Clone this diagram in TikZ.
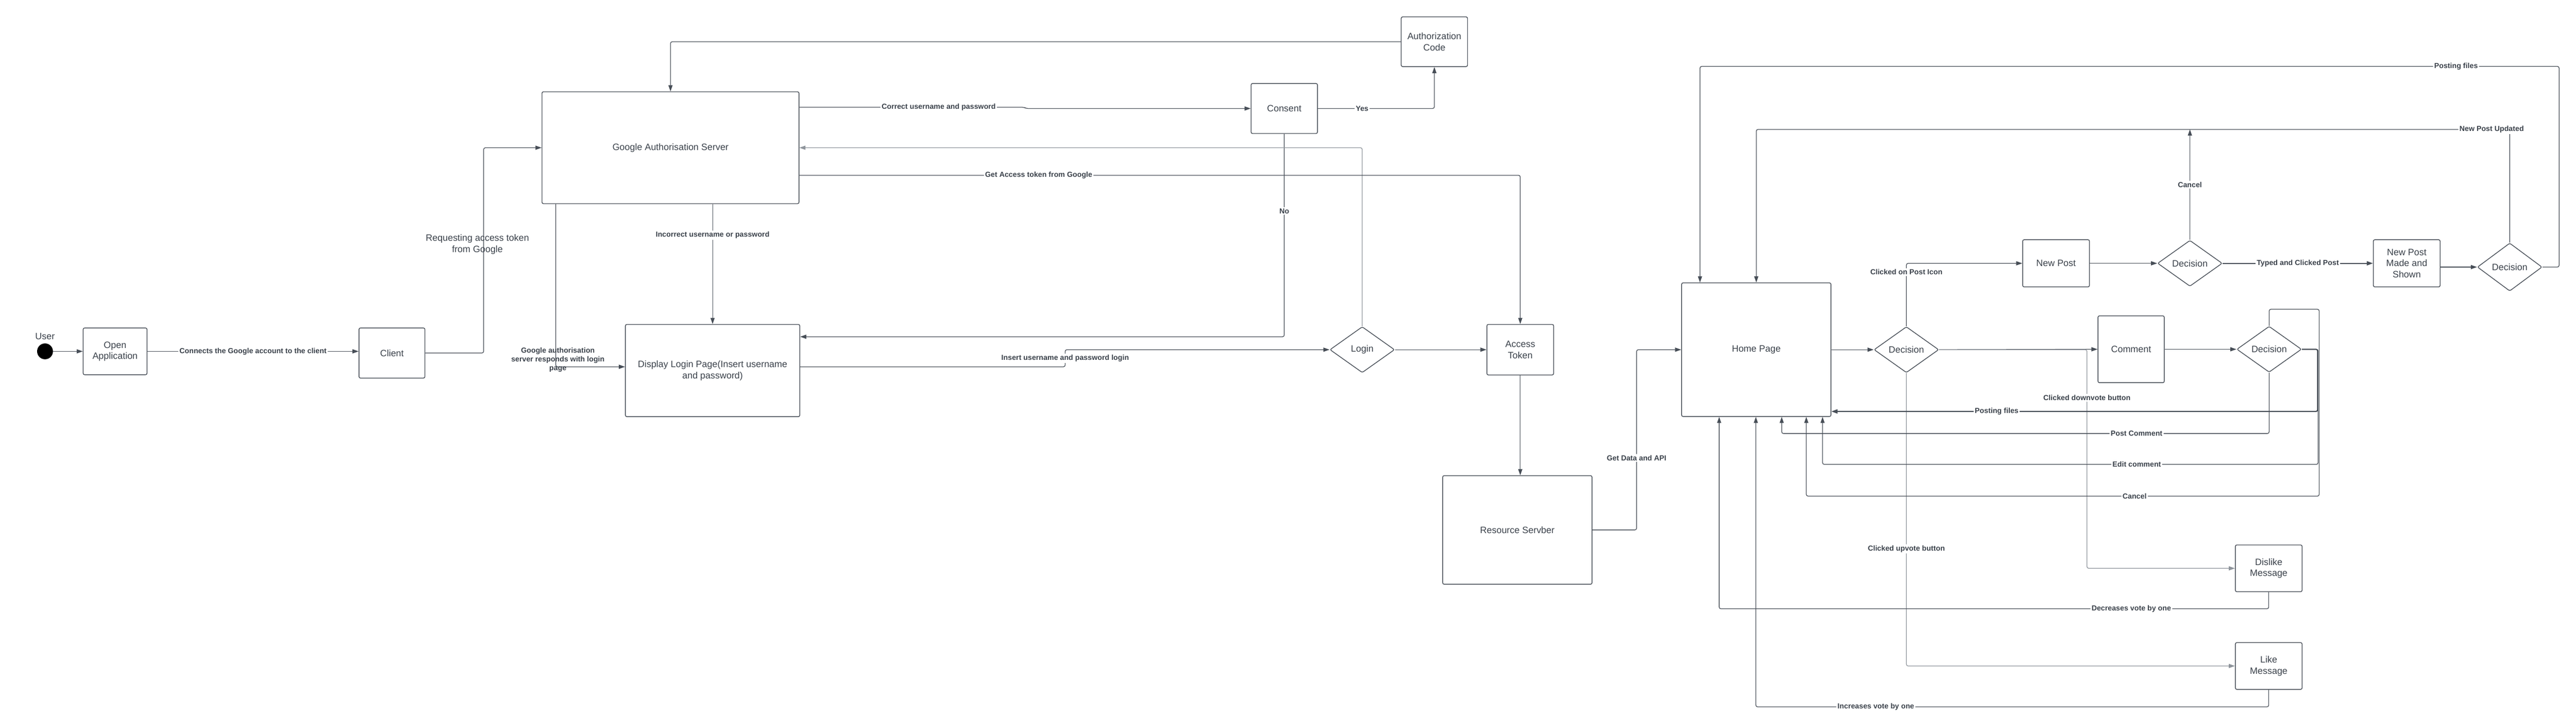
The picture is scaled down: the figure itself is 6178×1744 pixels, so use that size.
\documentclass[tikz,border=0pt]{standalone}
\usepackage{fontspec}
\setmainfont{Liberation Sans}
\usetikzlibrary{arrows.meta, positioning, shapes.geometric, calc}
\definecolor{linegray}{HTML}{474E57}
\definecolor{textgray}{HTML}{3A414A}
\definecolor{lightline}{HTML}{8E949B}

\begin{document}
\begin{tikzpicture}[x=0.01cm, y=-0.01cm, >={Triangle[length=4.2pt,width=2.8pt]},
    box/.style={draw=linegray, line width=0.5pt, rounded corners=1pt, align=center, text=textgray, font=\fontsize{6.3}{7.6}\selectfont, inner sep=1pt},
    choice/.style={diamond, draw=linegray, line width=0.5pt, rounded corners=1pt, inner sep=0pt, text=textgray, font=\fontsize{6.3}{7.6}\selectfont, minimum width=1.55cm, minimum height=1.1cm},
    dot/.style={circle, fill=black, inner sep=0pt, minimum size=0.38cm},
    flow/.style={->, draw=linegray, line width=0.45pt, rounded corners=1.2pt},
    faint/.style={draw=lightline},
    heavy/.style={line width=0.8pt},
    lbl/.style={fill=white, inner sep=0.8pt, text=textgray, font=\fontsize{5}{6}\selectfont\bfseries, align=center},
    openlbl/.style={lbl, fill=none},
    note/.style={text=textgray, font=\fontsize{6.3}{7.6}\selectfont, align=center, inner sep=0pt},
]

    % Page
    \path[use as bounding box, fill=white] (0,0) rectangle (6178,1744);

    % Sign-in nodes
    \node[dot, label={[name=luser, note, label distance=0.08cm]above:User}] (user) at (108,842) {};
    \node[box, minimum width=1.53cm, minimum height=1.12cm] (openapp) at (276,842) {Open\\Application};
    \node[box, minimum width=1.58cm, minimum height=1.2cm] (client) at (940,846) {Client};
    \node[box, minimum width=6.16cm, minimum height=2.68cm] (gas) at (1608,354) {Google Authorisation Server};
    \node[box, minimum width=4.18cm, minimum height=2.21cm] (dlp) at (1709,888) {Display Login Page(Insert username\\and password)};
    \node[box, minimum width=1.59cm, minimum height=1.2cm] (consent) at (3080,260) {Consent};
    \node[box, minimum width=1.59cm, minimum height=1.19cm] (authcode) at (3440,100) {Authorization\\Code};
    \node[choice] (logind) at (3267,838) {Login};
    \node[box, minimum width=1.6cm, minimum height=1.21cm] (acctoken) at (3646,838) {Access\\Token};
    \node[box, minimum width=3.58cm, minimum height=2.6cm] (ressrv) at (3639,1270) {Resource Servber};

    % App nodes
    \node[box, minimum width=3.58cm, minimum height=3.2cm] (home) at (4212,838) {Home Page};
    \node[choice] (dec1) at (4572,838) {Decision};
    \node[box, minimum width=1.6cm, minimum height=1.13cm] (newpost) at (4931,631) {New Post};
    \node[choice] (dec2) at (5252,631) {Decision};
    \node[box, minimum width=1.6cm, minimum height=1.13cm] (npms) at (5772,631) {New Post\\Made and\\Shown};
    \node[choice, minimum height=1.15cm] (dec3) at (6019,640) {Decision};
    \node[box, minimum width=1.59cm, minimum height=1.6cm] (comment) at (5111,837) {Comment};
    \node[choice] (dec4) at (5442,837) {Decision};
    \node[box, minimum width=1.6cm, minimum height=1.12cm] (dislike) at (5441,1362) {Dislike\\Message};
    \node[box, minimum width=1.6cm, minimum height=1.12cm] (like) at (5441,1596) {Like\\Message};

    % Sign-in connectors
    \draw[flow] (user) -- (openapp);
    \draw[flow] (openapp.east) -- node[lbl] (lconnect) {Connects the Google account to the client} (openapp.east -| client.west);
    \draw[flow] (client.east) -- ++(140,0) |- node[note, pos=0.265, xshift=-0.15cm] (lrequest) {Requesting access token\\from Google} (gas.west);
    \draw[flow] (authcode.west) -| (gas.north);
    \draw[flow] (dlp.north |- gas.south) -- node[lbl, pos=0.26] (lincorrect) {Incorrect username or password} (dlp.north);
    \draw[flow] ($(gas.south west)+(34,0)$) |- node[openlbl, pos=0.5, yshift=0.17cm, xshift=0.05cm] (lresponds) {Google authorisation\\server responds with login\\page} ($(dlp.west)+(0,-9)$);
    \draw[flow] ($(gas.east)+(0,-97)$) -- node[lbl, pos=0.62] (lcorrect) {Correct username and password} ++(539,0) -- ++(5,3) -- (consent.west);
    \draw[flow] (consent.east) -| node[lbl, pos=0.19] (lyes) {Yes} (authcode.south);
    \draw[flow] (consent.south) |- node[lbl, pos=0.19] (lno) {No} ($(dlp.east)+(0,-81)$);
    \draw[flow] ($(dlp.east)+(0,-9)$) -| node[lbl, pos=0.75] (linsert) {Insert username and password login} ($(logind.west)+(-634,0)$) -- (logind.west);
    \draw[flow, faint] (logind.north) |- (gas.east);
    \draw[flow] ($(gas.east)+(0,66)$) -| node[lbl, pos=0.166] (laccess) {Get Access token from Google} (acctoken.north);
    \draw[flow] (logind.east) -- (acctoken.west);
    \draw[flow] (acctoken.south) -- (acctoken.south |- ressrv.north);
    \draw[flow] (ressrv.east) -- ++(106,0) |- node[lbl, pos=0.2] (ldata) {Get Data and API} (home.west);

    % New post connectors
    \draw[flow] (home.east) -- (dec1.west);
    \draw[flow] (dec1.north) |- node[lbl, pos=0.43] (lposticon) {Clicked on Post Icon} (newpost.west);
    \draw[flow] (newpost.east) -- (dec2.west);
    \coordinate (updated) at ($(dec2.north)+(0,-265)$);
    \draw[flow] (dec2.north) -- node[lbl] (lcancel) {Cancel} (updated);
    \draw[flow, heavy] (dec2.east) -- node[lbl] (ltyped) {Typed and Clicked Post} (npms.west);
    \draw[flow] ($(npms.east)+(0,9)$) -- (dec3.west);
    \draw[flow] (dec3.north) |- node[lbl, pos=0.512] (lupdated) {New Post Updated} (updated -| home.north) -- (home.north);
    \draw[flow] (dec3.east) -- ++(40,0) |- node[lbl, pos=0.56] (lpostfiles) {Posting files} ($(home.north west)+(45,-518)$) -- ($(home.north west)+(45,0)$);

    % Comment and vote connectors
    \draw[flow] (dec1.east) -- (comment.west);
    \draw[flow, faint] (dec1.east) -| node[lbl, pos=0.61] (ldown) {Clicked downvote button} ($(dislike.west)+(-355,0)$) -- (dislike.west);
    \draw[flow, faint] (dec1.south) |- node[lbl, pos=0.30] (lup) {Clicked upvote button} (like.west);
    \draw[flow] (comment.east) -- (dec4.west);
    \draw[flow, heavy] (dec4.east) -- ++(38,0) |- node[lbl, pos=0.83] (lpostfiles2) {Posting files} ($(home.east)+(0,148)$);
    \draw[flow] (dec4.south) |- node[lbl, pos=0.636] (lpostcomment) {Post Comment} ($(home.south)+(61,40)$) -- ($(home.south)+(61,0)$);
    \draw[flow] (dec4.east) -- ++(39,0) |- node[lbl, pos=0.683] (ledit) {Edit comment} ($(home.south)+(159,114)$) -- ($(home.south)+(159,0)$);
    \draw[flow] (dec4.north) -- ++(0,-40) -- ++(120,0) |- node[lbl, pos=0.68] (lcancel2) {Cancel} ($(home.south)+(120,190)$) -- ($(home.south)+(120,0)$);
    \draw[flow] (dislike.south) |- node[lbl, pos=0.625] (ldecrease) {Decreases vote by one} ($(home.south)+(-89,460)$) -- ($(home.south)+(-89,0)$);
    \draw[flow] (like.south) |- node[lbl, pos=0.883] (lincrease) {Increases vote by one} ($(home.south)+(-1,695)$) -- ($(home.south)+(-1,0)$);

\end{tikzpicture}
\end{document}
